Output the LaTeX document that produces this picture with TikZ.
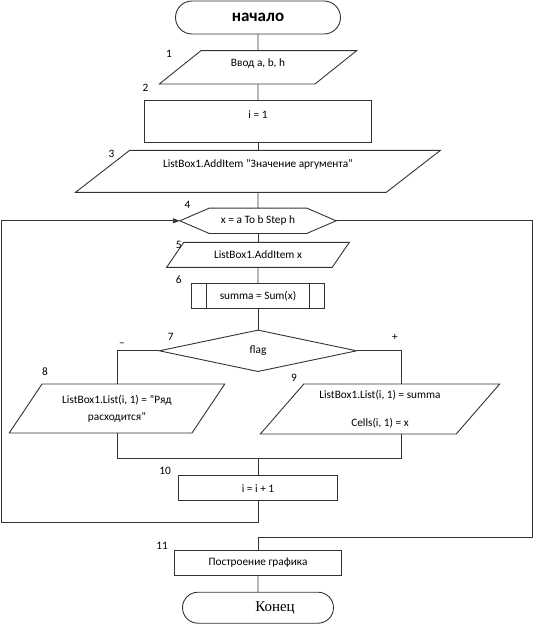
\documentclass[tikz,border=0pt]{standalone}
\usepackage{fontspec}
\setmainfont{Carlito}
\newfontfamily\serifa{Liberation Serif}
\usetikzlibrary{shapes.geometric,shapes.misc,arrows.meta}
\tikzset{
  every node/.style={font=\fontsize{11.3}{13.6}\selectfont},
  linea/.style={draw=black!80, line width=0.9pt},
  term/.style={linea, rounded rectangle, inner sep=0pt},
  blocco/.style={linea, rectangle, inner sep=0pt},
  dati/.style={linea, trapezium, trapezium left angle=#1, trapezium right angle={180-#1},
    trapezium stretches=true, inner sep=0pt},
}
\begin{document}
\begin{tikzpicture}[x=1pt,y=-1pt]
      \useasboundingbox (0,0) rectangle (539,627);
      %blocchi
      \node[term, minimum width=165pt, minimum height=33pt, font=\fontsize{17}{20}\selectfont\bfseries] (inizio) at (258,17.5) {начало};
      \node[dati=39.8, minimum width=199pt, minimum height=33.3pt] (ingresso) at (258,67.3) {\raisebox{8.6pt}{Ввод a, b, h}};
      \node[blocco, minimum width=226.7pt, minimum height=41.3pt] (primo) at (258,121.3) {\raisebox{12.6pt}{i = 1}};
      \node[dati=29.4, minimum width=366pt, minimum height=42pt] (titolo) at (258,171.3) {\raisebox{14.6pt}{ListBox1.AddItem "Значение аргумента"}};
      \node[minimum width=156pt, minimum height=25pt, inner sep=0pt] (ciclo) at (258,220.8) {x = a To b Step h};
      \draw[linea] (ciclo.west) -- ([xshift=29.5pt]ciclo.north west) -- ([xshift=-29.5pt]ciclo.north east)
        -- (ciclo.east) -- ([xshift=-29.5pt]ciclo.south east) -- ([xshift=29.5pt]ciclo.south west) -- cycle;
      \node[dati=38, minimum width=183pt, minimum height=25pt] (stampa) at (258,254.8) {ListBox1.AddItem x};
      \node[blocco, minimum width=133.7pt, minimum height=25pt] (somma) at (258,295.8) {summa = Sum(x)};
      \draw[linea] ([xshift=16pt]somma.north west) -- ([xshift=16pt]somma.south west);
      \draw[linea] ([xshift=-16pt]somma.north east) -- ([xshift=-16pt]somma.south east);
      \node[linea, diamond, minimum width=197.6pt, minimum height=41.7pt, inner sep=0pt] (test) at (258,350.8) {flag};
      \node[dati=48.1, minimum width=216pt, minimum height=49pt, align=center] (no) at (117,408.5) {ListBox1.List(i, 1) = "Ряд\\[3pt]расходится"};
      \node[dati=48, minimum width=240pt, minimum height=50pt, align=center] (si) at (380,409) {ListBox1.List(i, 1) = summa\\[15pt]Cells(i, 1) = x};
      \node[blocco, minimum width=159pt, minimum height=25pt] (incr) at (258,488.2) {i = i + 1};
      \node[blocco, minimum width=166.6pt, minimum height=24.6pt] (grafico) at (258,563) {Построение графика};
      \node[term, minimum width=151pt, minimum height=31pt, font=\serifa\fontsize{15}{18}\selectfont] (fine) at (258,607.7) {\hspace*{34pt}Конец};
      %collegamenti
      \draw[linea] (inizio) -- (ingresso);
      \draw[linea] (ingresso) -- (primo);
      \draw[linea] (primo) -- (titolo);
      \draw[linea] (titolo) -- (ciclo);
      \draw[linea] (ciclo) -- (stampa);
      \draw[linea] (stampa) -- (somma);
      \draw[linea] (somma) -- (test);
      \draw[linea] (test.west) -| (no.north);
      \draw[linea] (test.east) -| ([xshift=21pt]si.north);
      \coordinate (unione) at (258,458.5);
      \draw[linea] (no.south) |- (unione) -| ([xshift=21pt]si.south);
      \draw[linea] (unione) -- (incr);
      \coordinate (sotto) at (1,522);
      \draw[linea, -{Triangle[length=7pt,width=5pt]}] (incr.south) |- (sotto) |- (ciclo.west);
      \coordinate (destra) at (532.7,537.5);
      \draw[linea] (ciclo.east) -| (destra) -| (grafico.north);
      \draw[linea] (grafico) -- (fine);
      %numeri
      \node (n1) at (169,54) {1};
      \node (n2) at (145.4,88) {2};
      \node (n3) at (111.4,154) {3};
      \node (n4) at (187.5,205) {4};
      \node (n5) at (178.7,245) {5};
      \node (n6) at (178.7,280) {6};
      \node (n7) at (170.8,337.3) {7};
      \node (meno) at (122,345) {--};
      \node (piu) at (395,337.3) {+};
      \node (n8) at (45,372) {8};
      \node (n9) at (294,378) {9};
      \node (n10) at (165,470.7) {10};
      \node (n11) at (162.2,546) {11};
    \end{tikzpicture}
\end{document}
